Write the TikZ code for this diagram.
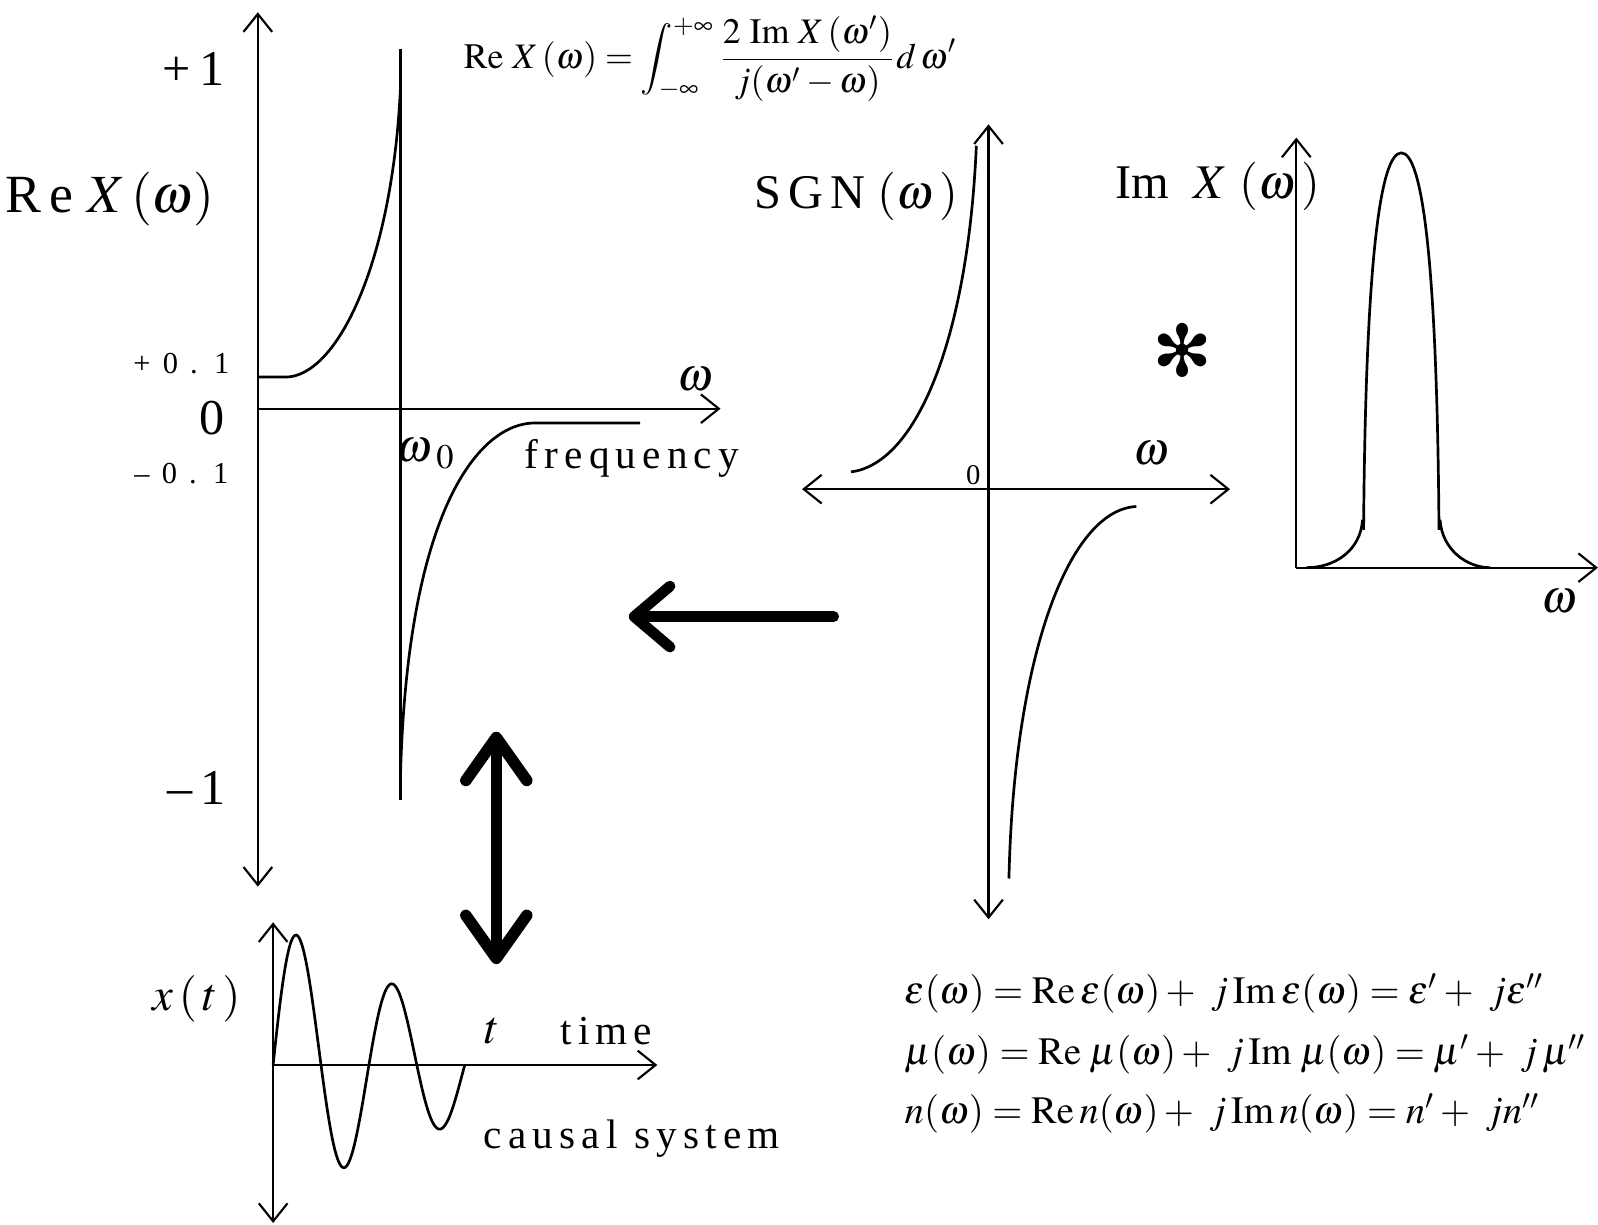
\documentclass[tikz,border=0pt]{standalone}
\usepackage{mathptmx}
\usepackage[no-math]{fontspec}
\setmainfont{Liberation Serif}
\newfontfamily\lsfont[LetterSpace=15]{Liberation Serif}
\newfontfamily\symfont{DejaVu Sans}
\usetikzlibrary{arrows.meta}

\tikzset{
  axis/.style={line width=0.6pt},
  curve/.style={line width=0.75pt},
  bigarr/.style={line width=3pt, line cap=round, -{Straight Barb[length=10pt,width=17pt,round]}},
  dblarr/.style={line width=3.2pt, line cap=round, {Straight Barb[length=12pt,width=17pt,round]}-{Straight Barb[length=12pt,width=17pt,round]}},
  lab/.style={inner sep=0pt, font=\fontsize{14}{16}\selectfont},
  tick/.style={inner sep=0pt, font=\fontsize{8.5}{10}\selectfont\lsfont},
  word/.style={inner sep=0pt, font=\fontsize{11.5}{13}\selectfont\lsfont},
  eqn/.style={inner sep=0pt, anchor=west, font=\fontsize{10.8}{13}\selectfont}
}

\begin{document}
\begin{tikzpicture}[x=0.01cm, y=-0.01cm, >={Straight Barb[length=5pt,width=8pt]}]
    \useasboundingbox (0,0) rectangle (1568,1202);

    % 1. 左图: Re X(w)
    \draw[axis, <->] (253,12) -- (253,870);
    \draw[axis, ->] (253,401) -- (707,401);
    \draw[curve] (393,48) -- (393,785);
    \draw[curve] (253,370) -- (280,370) .. controls (330,370) and (385,260) .. (393,85);
    \draw[curve] (393,760) .. controls (400,500) and (470,415) .. (525,415) -- (628,415);

    \node[lab] (plusOne) at (190,68) {+\,1};
    \node[lab, font=\fontsize{15}{17}\selectfont] (reX) at (108,195) {{\lsfont Re} $X\,(\omega)$};
    \node[tick] (plusTick) at (178,357) {+ 0 . 1};
    \node[lab] (zeroL) at (208,410) {0};
    \node[tick] (minusTick) at (178,465) {\textendash\ 0 . 1};
    \node[lab] (minusOne) at (193,773) {\textendash\,1};
    \node[lab, font=\fontsize{13}{15}\selectfont] (omegaL) at (682,372) {$\omega$};
    \node[lab, font=\fontsize{13}{15}\selectfont] (omegaZero) at (418,445) {$\omega_{\;0}$};
    \node[word] (freq) at (620,450) {frequency};

    % 2. Hilbert 关系式
    \node[inner sep=0pt, font=\fontsize{10}{12}\selectfont] (hilbert) at (697,58)
        {$\mathrm{Re}\ X\,(\omega)=\displaystyle\int_{-\infty}^{+\infty}\frac{2\ \mathrm{Im}\ X\,(\omega')}{j(\omega'-\omega)}d\,\omega'$};

    % 3. 中图: SGN(w)
    \draw[axis, <->] (970,122) -- (970,902);
    \draw[axis, <->] (787,480) -- (1207,480);
    \draw[curve] (835,463) .. controls (900,455) and (950,330) .. (958,143);
    \draw[curve] (1115,497) .. controls (1050,500) and (995,640) .. (990,862);

    \node[lab, font=\fontsize{13.5}{15}\selectfont] (sgn) at (840,193) {{\lsfont SGN} $(\omega\,)$};
    \node[tick, font=\fontsize{8}{9}\selectfont] (zeroM) at (955,466) {0};
    \node[lab, font=\fontsize{13}{15}\selectfont] (omegaM) at (1130,445) {$\omega$};

    % 4. 卷积符号
    \node[inner sep=0pt, font=\fontsize{20}{20}\selectfont\symfont] (conv) at (1160,344) {✻};

    % 5. 右图: Im X(w)
    \draw[axis, ->] (1272,557) -- (1272,135);
    \draw[axis, ->] (1272,557) -- (1568,557);
    \draw[curve] (1282,557) .. controls (1310,557) and (1335,540) .. (1337,510);
    \draw[curve] (1413,510) .. controls (1415,540) and (1440,557) .. (1462,557);
    \draw[curve] (1338,520) .. controls (1340,250) and (1355,150) .. (1375,150)
        .. controls (1395,150) and (1410,250) .. (1412,520);

    \node[lab, font=\fontsize{13.5}{15}\selectfont] (imX) at (1195,183) {Im\ \ $X$\ $(\omega\,)$};
    \node[lab, font=\fontsize{13}{15}\selectfont] (omegaR) at (1530,590) {$\omega$};

    % 6. 粗箭头
    \coordinate (leftTail) at (818,605);
    \coordinate (leftHead) at (617,605);
    \draw[bigarr] (leftTail) -- (leftHead);
    \coordinate (dblTop) at (487,718);
    \coordinate (dblBot) at (487,946);
    \draw[dblarr] (dblTop) -- (dblBot);

    % 7. 下图: x(t)
    \draw[axis, <->] (268,905) -- (268,1200);
    \draw[axis, ->] (268,1045) -- (645,1045);
    \draw[curve] plot[domain=0:188, samples=150, smooth] (\x+268, {1045-143*exp(-0.005*\x)*sin(3.8298*\x)});

    \node[lab, font=\fontsize{13}{15}\selectfont] (xt) at (193,980) {$x\,(\,t\,)$};
    \node[lab, font=\fontsize{13}{15}\selectfont] (tL) at (483,1012) {$t$};
    \node[word] (timeL) at (595,1012) {time};
    \node[word] (causal) at (620,1117) {causal system};

    % 8. 色散关系
    \node[eqn] (epsEq) at (887,975) {$\varepsilon(\omega)=\mathrm{Re}\:\varepsilon(\omega)+\ j\,\mathrm{Im}\:\varepsilon(\omega)=\varepsilon'+\ j\varepsilon''$};
    \node[eqn] (muEq) at (887,1035) {$\mu(\omega)=\mathrm{Re}\;\mu(\omega)+\ j\,\mathrm{Im}\;\mu(\omega)=\mu'+\ j\,\mu''$};
    \node[eqn] (nEq) at (887,1093) {$n(\omega)=\mathrm{Re}\:n(\omega)+\ j\,\mathrm{Im}\:n(\omega)=n'+\ jn''$};
\end{tikzpicture}
\end{document}
